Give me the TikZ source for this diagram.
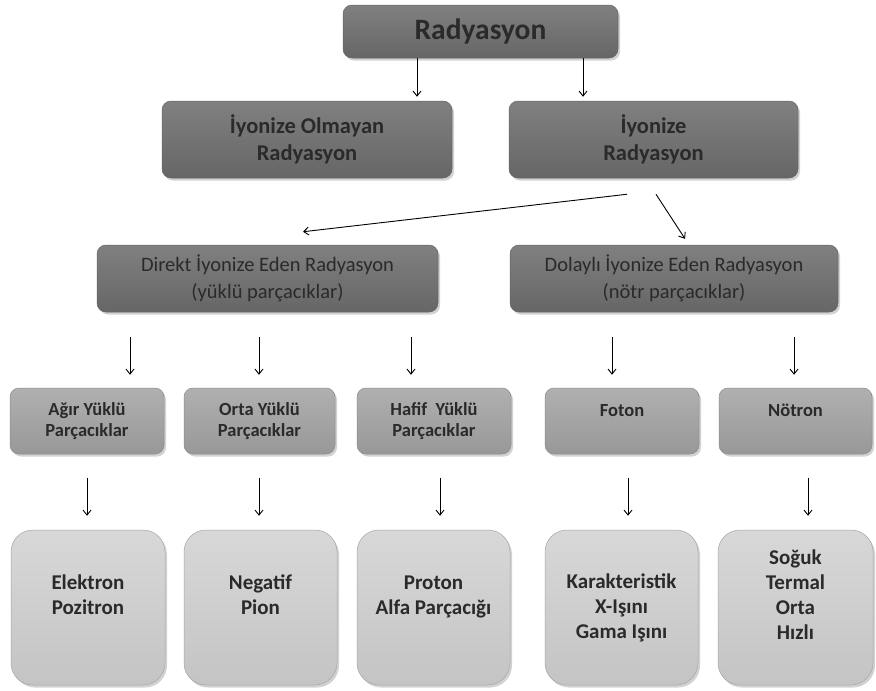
\documentclass[tikz,border=0pt]{standalone}
\usepackage{fontspec}
\setmainfont{Carlito}
\usetikzlibrary{arrows.meta,shadows}

\definecolor{ink}{HTML}{2A2A2A}
\definecolor{darktop}{HTML}{808080}
\definecolor{darkbot}{HTML}{666666}
\definecolor{midtop}{HTML}{B0B0B0}
\definecolor{midbot}{HTML}{989898}
\definecolor{lighttop}{HTML}{D8D8D8}
\definecolor{lightbot}{HTML}{C4C4C4}

\tikzset{
  boxbase/.style={inner sep=0pt, align=center, text=ink,
    drop shadow={opacity=0.35, shadow xshift=2pt, shadow yshift=-2.5pt}},
  darkbox/.style={boxbase, rounded corners=9pt, draw=black!60, line width=0.5pt,
    top color=darktop, bottom color=darkbot},
  midbox/.style={boxbase, rounded corners=9pt, draw=black!45, line width=0.5pt,
    top color=midtop, bottom color=midbot, minimum height=66pt,
    font=\fontsize{18.5}{21}\selectfont\bfseries},
  lightbox/.style={boxbase, rounded corners=22pt, draw=black!35, line width=0.5pt,
    top color=lighttop, bottom color=lightbot, minimum height=155pt,
    font=\fontsize{21}{25}\selectfont\bfseries},
  arr/.style={draw=black, line width=0.9pt, -{Straight Barb[length=5pt,width=8pt]}}
}

\begin{document}
\begin{tikzpicture}[x=1pt,y=-1pt]
  \fill[white] (0,0) rectangle (876,691);
  \useasboundingbox (0,0) rectangle (876,691);

  % top level
  \node[darkbox, minimum width=275pt, minimum height=53pt,
        font=\fontsize{29.5}{32}\selectfont\bfseries] (rad) at (480.5,31.5) {Radyasyon};

  % ionizing / non-ionizing
  \node[darkbox, minimum width=290pt, minimum height=77pt,
        font=\fontsize{22.5}{27}\selectfont\bfseries] (olm) at (307,139.5)
        {İyonize Olmayan\\Radyasyon};
  \node[darkbox, minimum width=289pt, minimum height=77pt,
        font=\fontsize{22.5}{27}\selectfont\bfseries] (iyo) at (653.5,139.5)
        {İyonize\\Radyasyon};

  % direct / indirect
  \node[darkbox, minimum width=341pt, minimum height=67pt,
        font=\fontsize{20.5}{27}\selectfont] (dir) at (267.5,278.5)
        {Direkt İyonize Eden Radyasyon\\(yüklü parçacıklar)};
  \node[darkbox, minimum width=328pt, minimum height=67pt,
        font=\fontsize{20.5}{27}\selectfont] (dol) at (674,278.5)
        {Dolaylı İyonize Eden Radyasyon\\(nötr parçacıklar)};

  % particle groups
  \node[midbox, minimum width=154pt] (agir)   at (87,421)    {Ağır Yüklü\\Parçacıklar};
  \node[midbox, minimum width=151pt] (orta)   at (259.5,421) {Orta Yüklü\\Parçacıklar};
  \node[midbox, minimum width=154pt] (hafif)  at (434,421)   {Hafif~~Yüklü\\Parçacıklar};
  \node[midbox, minimum width=154pt] (foton)  at (622,421)   {Foton\\~};
  \node[midbox, minimum width=153pt] (notron) at (795.5,421) {Nötron\\~};

  % examples
  \node[lightbox, minimum width=154pt] (elek) at (88,607.5)    {Elektron\\Pozitron\\~};
  \node[lightbox, minimum width=153pt] (neg)  at (260.5,607.5) {Negatif\\Pion\\~};
  \node[lightbox, minimum width=153pt] (prot) at (433.5,607.5) {Proton\\Alfa Parçacığı\\~};
  \node[lightbox, minimum width=153pt] (kar)  at (621.5,607.5) {Karakteristik\\X-Işını\\Gama Işını};
  \node[lightbox, minimum width=155pt] (sog)  at (795.5,607.5) {Soğuk\\Termal\\Orta\\Hızlı\\~};

  % connectors
  \draw[arr] ([shift={(-63.5,0)}]rad.south) -- ([shift={(110,-4)}]olm.north);
  \draw[arr] ([shift={(102.5,0)}]rad.south) -- ([shift={(-70.5,-4)}]iyo.north);

  \draw[arr] ([shift={(-26.5,16)}]iyo.south) -- ([shift={(35.5,-13)}]dir.north);
  \draw[arr] ([shift={(2.5,16)}]iyo.south)   -- ([shift={(11,-6)}]dol.north);

  \draw[arr] ([shift={(-137.5,25)}]dir.south) -- ([shift={(43,-13)}]agir.north);
  \draw[arr] ([shift={(-8.5,25)}]dir.south)   -- ([shift={(-0.5,-13)}]orta.north);
  \draw[arr] ([shift={(143.5,25)}]dir.south)  -- ([shift={(-23,-13)}]hafif.north);
  \draw[arr] ([shift={(-62,25)}]dol.south)    -- ([shift={(-10,-13)}]foton.north);
  \draw[arr] ([shift={(120,25)}]dol.south)    -- ([shift={(-1.5,-13)}]notron.north);

  \draw[arr] ([shift={(0,24)}]agir.south)     -- ([shift={(-1,-14)}]elek.north);
  \draw[arr] ([shift={(-0.5,24)}]orta.south)  -- ([shift={(-1.5,-14)}]neg.north);
  \draw[arr] ([shift={(6,24)}]hafif.south)    -- ([shift={(6.5,-14)}]prot.north);
  \draw[arr] ([shift={(6,24)}]foton.south)    -- ([shift={(6.5,-14)}]kar.north);
  \draw[arr] ([shift={(12.5,24)}]notron.south) -- ([shift={(12.5,-14)}]sog.north);
\end{tikzpicture}
\end{document}
